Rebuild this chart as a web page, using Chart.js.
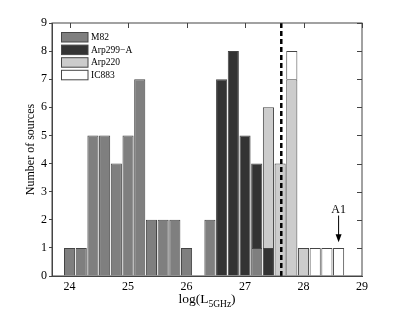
<!DOCTYPE html>
<html>
<head>
<meta charset="utf-8">
<script src="https://cdn.jsdelivr.net/npm/chart.js@4"></script>
<style>
  body { margin: 0; background: #fff; }
</style>
</head>
<body>
<canvas id="hist" width="399" height="312"></canvas>
<script>
// bin centres, log(L_5GHz), width 0.2
const bins   = [24.0, 24.2, 24.4, 24.6, 24.8, 25.0, 25.2, 25.4, 25.6, 25.8, 26.0, 26.2, 26.4, 26.6, 26.8, 27.0, 27.2, 27.4, 27.6, 27.8, 28.0, 28.2, 28.4, 28.6];
const m82    = [1, 1, 5, 5, 4, 5, 7, 2, 2, 2, 1, 0, 2, 0, 0, 0, 1, 0, 0, 0, 0, 0, 0, 0];
const arp299 = [0, 0, 0, 0, 0, 0, 0, 0, 0, 0, 0, 0, 0, 7, 8, 5, 3, 1, 0, 0, 0, 0, 0, 0];
const arp220 = [0, 0, 0, 0, 0, 0, 0, 0, 0, 0, 0, 0, 0, 0, 0, 0, 0, 5, 4, 7, 1, 0, 0, 0];
const ic883  = [0, 0, 0, 0, 0, 0, 0, 0, 0, 0, 0, 0, 0, 0, 0, 0, 0, 0, 0, 1, 0, 1, 1, 1];
const xTicks = [24, 25, 26, 27, 28, 29];
const yTicks = [0, 1, 2, 3, 4, 5, 6, 7, 8, 9];
const cutoff = 27.62;
const arrow = { label: 'A1', x: 28.6, from: 2.15, to: 1.2 };

const SERIF = '"Liberation Serif", "DejaVu Serif", serif';

function series(vals) {
  return bins.map((b, i) => ({ x: b, y: vals[i] === 0 ? null : vals[i] }));
}

const sets = [
  { label: 'M82', data: series(m82), backgroundColor: '#7f7f7f' },
  { label: 'Arp299\u2212A', data: series(arp299), backgroundColor: '#333333' },
  { label: 'Arp220', data: series(arp220), backgroundColor: '#cccccc' },
  { label: 'IC883', data: series(ic883), backgroundColor: '#ffffff' }
].map(d => Object.assign(d, { borderColor: '#444444', borderWidth: 1, categoryPercentage: 1, barPercentage: 0.95 }));

// frame, inner ticks, cutoff line, arrow, legend and x title
const extras = {
  id: 'extras',
  afterDatasetsDraw(chart) {
    const { ctx, chartArea: a, scales: { x, y } } = chart;
    ctx.save();
    // dashed cutoff
    const cx = x.getPixelForValue(cutoff);
    ctx.strokeStyle = '#000';
    ctx.lineWidth = 2.5;
    ctx.setLineDash([5, 3]);
    ctx.beginPath(); ctx.moveTo(cx, a.top); ctx.lineTo(cx, a.bottom); ctx.stroke();
    ctx.setLineDash([]);

    // frame
    ctx.strokeStyle = '#444';
    ctx.lineWidth = 1;
    ctx.strokeRect(a.left, a.top, a.right - a.left, a.bottom - a.top);
    ctx.beginPath();
    xTicks.forEach(v => {
      const px = Math.round(x.getPixelForValue(v)) + 0.5;
      ctx.moveTo(px, a.top); ctx.lineTo(px, a.top + 5);
    });
    yTicks.forEach(v => {
      const py = Math.round(y.getPixelForValue(v)) + 0.5;
      ctx.moveTo(a.right, py); ctx.lineTo(a.right - 5, py);
    });
    ctx.stroke();

    // A1 arrow
    const ax = x.getPixelForValue(arrow.x);
    const y0 = y.getPixelForValue(arrow.from), y1 = y.getPixelForValue(arrow.to);
    ctx.strokeStyle = '#000';
    ctx.beginPath(); ctx.moveTo(ax, y0); ctx.lineTo(ax, y1 - 6); ctx.stroke();
    ctx.fillStyle = '#000';
    ctx.beginPath(); ctx.moveTo(ax - 3, y1 - 8); ctx.lineTo(ax + 3, y1 - 8); ctx.lineTo(ax, y1); ctx.closePath(); ctx.fill();
    ctx.font = '12px ' + SERIF;
    ctx.textAlign = 'center'; ctx.textBaseline = 'alphabetic';
    ctx.fillText(arrow.label, ax, y0 - 3);

    // legend
    ctx.textAlign = 'left'; ctx.textBaseline = 'middle';
    ctx.font = '9.5px ' + SERIF;
    sets.forEach((d, i) => {
      const bx = a.left + 9.5, by = a.top + 9.5 + i * 12.6;
      ctx.fillStyle = d.backgroundColor;
      ctx.fillRect(bx, by, 26.5, 9.5);
      ctx.strokeStyle = '#474747';
      ctx.strokeRect(bx, by, 26.5, 9.5);
      ctx.fillStyle = '#000';
      ctx.fillText(d.label, bx + 29.5, by + 5);
    });

    // x title with subscript
    const parts = [['log(L', 13.5, 0], ['5GHz', 9.5, 4], [')', 13.5, 0]];
    let w = 0;
    parts.forEach(p => { ctx.font = p[1] + 'px ' + SERIF; w += ctx.measureText(p[0]).width; });
    let tx = (a.left + a.right) / 2 - w / 2;
    ctx.textBaseline = 'alphabetic';
    parts.forEach(p => {
      ctx.font = p[1] + 'px ' + SERIF;
      ctx.fillText(p[0], tx, 303 + p[2]);
      tx += ctx.measureText(p[0]).width;
    });
    ctx.restore();
  }
};

new Chart(document.getElementById('hist'), {
  type: 'bar',
  data: { datasets: sets },
  options: {
    responsive: false,
    animation: false,
    layout: { padding: { left: 16, right: 37, top: 23, bottom: 0 } },
    plugins: { legend: { display: false }, tooltip: { enabled: false } },
    scales: {
      x: {
        type: 'linear', stacked: true, min: 23.7, max: 29, offset: false,
        afterBuildTicks: s => { s.ticks = xTicks.map(v => ({ value: v })); },
        afterFit: s => { s.height = 36; },
        grid: { display: false, drawTicks: false },
        border: { display: true, color: '#444' },
        ticks: { color: '#000', font: { family: SERIF, size: 12 }, padding: 4, maxRotation: 0 }
      },
      y: {
        stacked: true, min: 0, max: 9,
        afterBuildTicks: s => { s.ticks = yTicks.map(v => ({ value: v })); },
        afterFit: s => { s.width = 36; },
        grid: { drawOnChartArea: false, drawTicks: true, tickLength: 3, color: '#444' },
        border: { display: true, color: '#444' },
        ticks: { color: '#000', font: { family: SERIF, size: 12 }, padding: 2 },
        title: { display: true, text: 'Number of sources', color: '#000', font: { family: SERIF, size: 12 }, padding: { top: 8, bottom: 0 } }
      }
    }
  },
  plugins: [extras]
});
</script>
</body>
</html>
